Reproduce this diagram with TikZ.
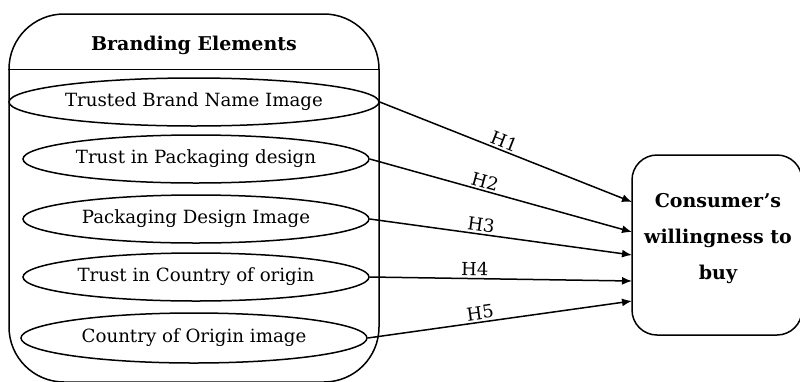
\documentclass[tikz,border=0pt]{standalone}
\usepackage{fontspec}
\setmainfont{DejaVu Serif}
\usetikzlibrary{shapes.geometric,arrows.meta}
\begin{document}
\begin{tikzpicture}[x=1pt,y=-1pt,
  oval/.style={draw,ellipse,line width=1.5pt,inner sep=0pt,font=\fontsize{18.2}{21}\selectfont},
  link/.style={line width=1.5pt,-{Latex[length=10pt,width=8pt]}},
  hlab/.style={sloped,above,inner sep=2pt,font=\fontsize{18}{20}\selectfont},
  btext/.style={font=\bfseries\fontsize{19}{36}\selectfont,align=center}]
\useasboundingbox (0,0) rectangle (800,381);
\node[draw,line width=1.5pt,rounded corners=55pt,minimum width=370pt,minimum height=368pt,inner sep=0pt] (be) at (194,198) {};
\node[btext] (title) at (194,45) {Branding Elements};
\draw[line width=0.6pt] (be.west |- 0,69) coordinate (sl) -- (be.east |- 0,69) coordinate (sr);
\node[oval,minimum width=370pt,minimum height=48pt] (e1) at (194,102) {Trusted Brand Name Image};
\node[oval,minimum width=346pt,minimum height=48pt] (e2) at (196,159) {Trust in Packaging design};
\node[oval,minimum width=346pt,minimum height=48pt] (e3) at (196,219) {Packaging Design Image};
\node[oval,minimum width=346pt,minimum height=48pt] (e4) at (196,277) {Trust in Country of origin};
\node[oval,minimum width=346pt,minimum height=50pt] (e5) at (194,338) {Country of Origin image};
\node[draw,line width=1.5pt,rounded corners=25pt,minimum width=170pt,minimum height=180pt,inner sep=0pt] (cw) at (717,245) {};
\node[btext] (cwt) at (718,239) {Consumer’s\\willingness to\\buy};
\coordinate (t1) at (632,202);
\coordinate (t2) at (632,232);
\coordinate (t3) at (632,255);
\coordinate (t4) at (632,281);
\coordinate (t5) at (632,301);
\draw[link] (e1.east) -- node[hlab,pos=0.48] {H1} (t1);
\draw[link] (e2.east) -- node[hlab,pos=0.43] {H2} (t2);
\draw[link] (e3.east) -- node[hlab,pos=0.42] {H3} (t3);
\draw[link] (e4.east) -- node[hlab,pos=0.40] {H4} (t4);
\draw[link] (e5.east) -- node[hlab,pos=0.43] {H5} (t5);
\end{tikzpicture}
\end{document}
